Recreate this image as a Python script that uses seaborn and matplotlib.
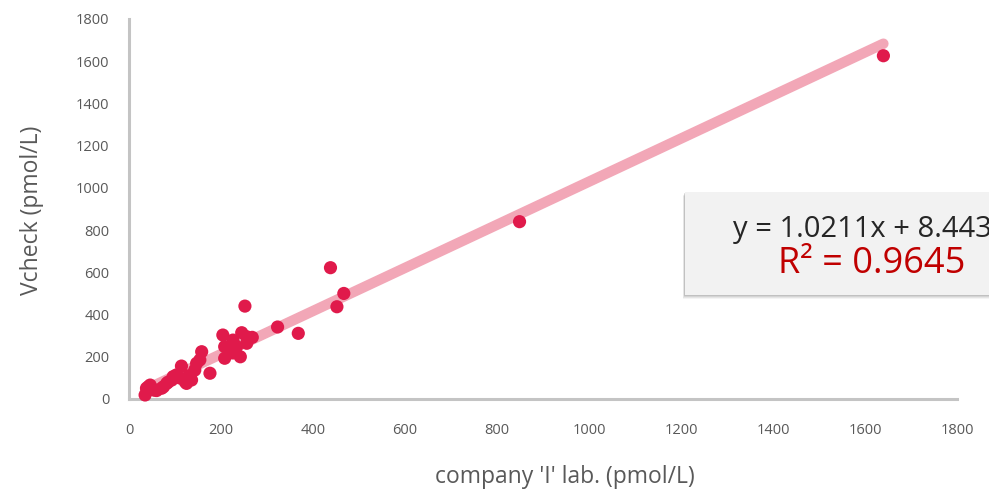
import numpy as np
import pandas as pd
import matplotlib
matplotlib.use("Agg")
import matplotlib.pyplot as plt
from matplotlib.patches import Rectangle
import seaborn as sns

# Paired measurements (pmol/L)
company_lab = [35, 38, 42, 46, 53, 56, 60, 71, 75, 82, 85, 93, 96, 103, 110,
               114, 122, 125, 130, 136, 143, 147, 154, 158, 176, 204, 208, 208,
               226, 226, 234, 242, 245, 252, 256, 256, 268, 323, 368, 438, 452,
               467, 849, 1640]
vcheck = [19, 51, 58, 66, 43, 43, 40, 51, 58, 74, 80, 90, 106, 114, 100,
          156, 82, 74, 110, 90, 137, 169, 185, 224, 122, 303, 248, 193,
          279, 218, 248, 200, 314, 440, 264, 295, 292, 341, 311, 622, 437,
          500, 840, 1626]

# Linear fit reported for the data
slope = 1.0211
intercept = 8.4433
r_squared = 0.9645

x_ticks = [0, 200, 400, 600, 800, 1000, 1200, 1400, 1600, 1800]
y_ticks = [0, 200, 400, 600, 800, 1000, 1200, 1400, 1600, 1800]

df = pd.DataFrame({"company": company_lab, "vcheck": vcheck})

sns.set_theme(style="white")
plt.rcParams["font.family"] = ["Open Sans", "DejaVu Sans"]

fig = plt.figure(figsize=(9.89, 4.92), dpi=100)
W, H = 989, 492
ax = fig.add_axes([129 / W, 1 - 399 / H, (957 - 129) / W, (399 - 19) / H])

# Trend line
xs = np.array([min(company_lab), max(company_lab)])
ax.plot(xs, slope * xs + intercept, color="#f2a7b7", lw=7.5,
        solid_capstyle="round", zorder=1)

sns.scatterplot(data=df, x="company", y="vcheck", ax=ax, color="#e01a4b",
                s=90, edgecolor="none", zorder=3, clip_on=False)

ax.set_xlim(0, 1800)
ax.set_ylim(0, 1800)
ax.set_xticks(x_ticks)
ax.set_yticks(y_ticks)
ax.tick_params(axis="both", length=0, labelsize=10.5, labelcolor="#595959")
ax.tick_params(axis="x", pad=17)
ax.tick_params(axis="y", pad=14)
for side in ("top", "right"):
    ax.spines[side].set_visible(False)
for side in ("left", "bottom"):
    ax.spines[side].set_color("#c4c4c4")
    ax.spines[side].set_linewidth(2.2)

ax.set_xlabel("company 'I' lab. (pmol/L)", fontsize=16.5, color="#595959",
              va="center")
ax.set_ylabel("Vcheck (pmol/L)", fontsize=16.5, color="#595959",
              va="center")
ax.xaxis.set_label_coords((565 - 129) / (957 - 129), -(477 - 399) / (399 - 19))
ax.yaxis.set_label_coords(-(129 - 32) / (957 - 129), (399 - 210) / (399 - 19))

# Equation box with soft shadow
bx0, by0, bx1, by1 = 685, 192, 1000, 295
for i, a in enumerate([0.08, 0.12, 0.16, 0.22]):
    off = 4 - i
    fig.patches.append(Rectangle(((bx0 - off * 0.6) / W, 1 - (by1 + off) / H),
                                 (bx1 - bx0) / W, (by1 - by0) / H,
                                 transform=fig.transFigure, facecolor="#7f7f7f",
                                 alpha=a, edgecolor="none", zorder=5))
fig.patches.append(Rectangle((bx0 / W, 1 - by1 / H), (bx1 - bx0) / W,
                             (by1 - by0) / H, transform=fig.transFigure,
                             facecolor="#f2f2f2", edgecolor="none", zorder=6))
fig.text(733 / W, 1 - 229 / H, f"y = {slope:.4f}x + {intercept:.4f}",
         fontsize=21, color="#262626", va="center", ha="left", zorder=7)
fig.text(778 / W, 1 - 264 / H, f"R² = {r_squared:.4f}",
         fontsize=26, color="#c00000", va="center", ha="left", zorder=7)

fig.savefig("out.png", dpi=100)
